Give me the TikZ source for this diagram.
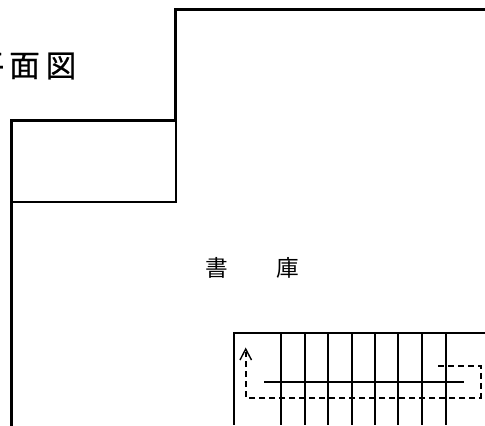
\documentclass[tikz,border=0pt]{standalone}
\usepackage{fontspec}
\newfontfamily\cjk{Noto Sans CJK JP}
\newfontfamily\cjktitle[FakeBold=0.7]{Noto Sans CJK JP}
\tikzset{
  heavy/.style={line width=2.4pt,line cap=rect},
  thinwall/.style={line width=1.5pt,line cap=rect},
  stair/.style={line width=1.5pt},
  walk/.style={line width=1.5pt,dash pattern=on 4.5pt off 3pt},
  tip/.style={line width=1.05pt},
  titletext/.style={font=\cjktitle\fontsize{23pt}{23pt}\selectfont,inner sep=0pt,anchor=center},
  roomtext/.style={font=\cjk\fontsize{17pt}{17pt}\selectfont,inner sep=0pt,anchor=center}
}
\begin{document}
\begin{tikzpicture}[x=0.75pt,y=-0.75pt]
\useasboundingbox (0,0) rectangle (485,425);
\clip (0,0) rectangle (485,425);
\fill[white] (0,0) rectangle (485,425);
% title, cut off by the left edge
\node[titletext] (t1) at (-11,66) {平};
\node[titletext] (t2) at (24.5,66) {面};
\node[titletext] (t3) at (61,66) {図};
% outer walls
\draw[heavy] (485,9.5) -- (175.5,9.5) -- (175.5,120.5) -- (11.5,120.5) -- (11.5,425);
% small room
\draw[thinwall] (176,120.5) -- (176,201.5) -- (11.5,201.5);
% room name
\node[roomtext] (r1) at (217,267.5) {書};
\node[roomtext] (r2) at (287.5,267.5) {庫};
% stairs
\draw[stair] (485,333) -- (234,333) -- (234,425);
\foreach \x in {280.5,304.5,327.5,351.5,375,398,422,446}
  \draw[stair] (\x,333) -- (\x,425);
\draw[stair] (264,381.5) -- (464,381.5);
\draw[walk] (438,365.5) -- (480.5,365.5) -- (480.5,397.5) -- (245.5,397.5) -- (245.5,352);
\draw[tip] (240,360) -- (245.7,349) -- (251.5,360);
\end{tikzpicture}
\end{document}
